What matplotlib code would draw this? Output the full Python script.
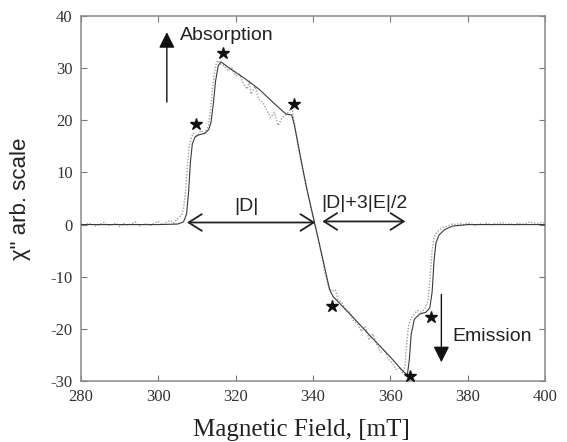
import matplotlib
matplotlib.use("Agg")
import matplotlib.pyplot as plt
import numpy as np

# Simulated (solid) spectrum
field_sim = [280, 300, 305, 306.5, 307.3, 307.8, 308.3, 308.8, 309.5, 310.5, 312, 313, 313.6,
             314.2, 314.8, 315.5, 316.2, 318, 322, 326, 330, 333, 334.5, 335.2, 336, 337,
             338.5, 340.5, 342.5, 344.3, 345.2, 346.5, 350, 355, 360, 363.5, 364.4, 364.9,
             365.4, 366.2, 367.5, 369.2, 370.2, 370.8, 371.3, 371.8, 372.6, 374, 376, 380, 400]
chi_sim = [0, 0, 0.1, 0.5, 2, 6, 12, 15.5, 16.8, 17.2, 17.5, 18.2, 19.5,
           23, 27.5, 30.5, 31.2, 30.2, 28.2, 26, 23.2, 21.2, 21, 19, 16, 12,
           6.5, 0, -6.5, -12.5, -13.8, -14.8, -17.5, -21.5, -25.4, -28.3, -28.8, -26,
           -21, -18.2, -17.2, -16.8, -16, -13, -7, -3.5, -2, -1, -0.3, 0, 0]

# Experimental (dotted) spectrum
field_exp = list(range(280, 306)) + [
    306, 306.5, 307, 307.5, 308, 308.5, 309, 310, 311, 312, 313, 313.5, 314, 314.5, 315,
    315.5, 316, 317, 318, 319, 320, 321, 322, 323, 323.5, 324, 325, 326, 327, 328, 329,
    330, 331, 332, 333, 334, 334.6, 335.3, 336, 337, 338, 339, 340, 341, 342, 343, 344,
    345, 345.8, 346.5, 347.5, 348.5, 349.5, 350.5, 351.5, 352.5, 353.5, 354.5, 355.5,
    356.5, 357.5, 358.5, 359.5, 360.5, 361.5, 362.5, 363.2, 363.8, 364.2, 364.7, 365.3,
    366, 367, 368, 369, 369.8, 370.3, 370.8, 371.3, 372, 373, 374, 375, 376] + list(range(377, 401))
chi_exp = [0.2, -0.1, 0.3, 0, -0.3, 0.1, 0.4, -0.2, 0, 0.3, -0.4, 0.2, -0.1, 0.1, 0.5, -0.3,
           0, 0.2, -0.2, 0.3, 0.6, -0.1, 0.4, 0.8, 0.3, 1.2] + [
    1.8, 3, 6, 11, 15, 16.5, 17.5, 17, 18, 17.5, 19, 22, 26, 29, 31,
    31.5, 30.8, 30.5, 29.5, 30, 28.5, 28.8, 27, 26, 27.5, 25, 26.5, 24, 23.5, 22, 20.5,
    21.5, 19, 20.5, 21, 22, 22.3, 19, 15.5, 12, 8, 5, 1.5, -1.5, -5, -9, -12,
    -12.8, -12.5, -14.5, -15, -16.5, -16.8, -18.5, -19, -20.5, -19.5, -22, -21,
    -23, -24.5, -24, -25.8, -26.5, -27.8, -27.5, -28.5, -27, -23, -19.5, -18,
    -17.2, -16.5, -16.8, -16, -14.5, -10, -5, -2.5, -1.5, -0.8, -0.5, -0.2, 0.1] + [
    0, 0.2, -0.1, 0.3, 0.1, -0.2, 0.2, 0, 0.3, -0.1, 0.2, 0.1, 0.4, 0, 0.2, -0.1,
    0.3, 0.1, 0.2, 0.5, 0.3, 0.2, 0.4, 0.3]

# Marked transitions (stars)
star_field = [309.7, 316.6, 335.0, 344.8, 365.2, 370.6]
star_chi = [19.3, 32.9, 23.1, -15.7, -29.0, -17.8]

x_ticks = [280, 300, 320, 340, 360, 380, 400]
y_ticks = [-30, -20, -10, 0, 10, 20, 30, 40]

W, H = 567, 442
fig = plt.figure(figsize=(W / 100, H / 100), dpi=100)
ax = fig.add_axes([81 / W, 1 - 381 / H, (545 - 81) / W, (381 - 16) / H])

ax.plot(field_exp, chi_exp, color='#a0a0a0', lw=1.0, ls=(0, (1, 1.2)), zorder=2)
ax.plot(field_sim, chi_sim, color='#3a3a3a', lw=0.8, zorder=3)
ax.plot(star_field, star_chi, ls='none', marker='*', color='#111111', ms=9, zorder=4)

ax.set_xlim(280, 400)
ax.set_ylim(-30, 40)
ax.set_xticks(x_ticks)
ax.set_yticks(y_ticks)
ax.set_xticklabels([str(t) for t in x_ticks])
ax.set_yticklabels([str(t) for t in y_ticks])
for lab in ax.get_xticklabels() + ax.get_yticklabels():
    lab.set_fontfamily('Liberation Serif')
    lab.set_fontsize(12)
    lab.set_color('#333333')
ax.tick_params(direction='in', length=4, width=0.8, color='#777777',
               top=True, right=True, pad=6)
for s in ax.spines.values():
    s.set_color('#8a8a8a')
    s.set_linewidth(1.1)

sans = 'Liberation Sans'
head = '-|>,head_length=0.6,head_width=0.3'
# Absorption arrow
ax.annotate('', xy=(302.2, 36.9), xytext=(302.2, 23.5),
            arrowprops=dict(arrowstyle=head, mutation_scale=16, color='#111111',
                            lw=1.0, shrinkA=0, shrinkB=0))
ax.text(305.5, 36.3, 'Absorption', family=sans, fontsize=14, ha='left', va='center', color='#222222')
# Emission arrow
ax.annotate('', xy=(373.2, -26.4), xytext=(373.2, -13.4),
            arrowprops=dict(arrowstyle=head, mutation_scale=16, color='#111111',
                            lw=1.0, shrinkA=0, shrinkB=0))
ax.text(376, -21.4, 'Emission', family=sans, fontsize=14, ha='left', va='center', color='#222222')

# |D| double arrow
ax.annotate('', xy=(307.4, 0.4), xytext=(340.6, 0.4),
            arrowprops=dict(arrowstyle='<->,head_length=0.95,head_width=0.6',
                            mutation_scale=10, color='#222222', lw=1.3, shrinkA=0, shrinkB=0))
ax.text(322.8, 3.4, '|D|', family=sans, fontsize=14, ha='center', va='center', color='#222222')
# |D|+3|E|/2 double arrow
ax.annotate('', xy=(342.4, 0.6), xytext=(363.9, 0.6),
            arrowprops=dict(arrowstyle='<->,head_length=0.95,head_width=0.6',
                            mutation_scale=10, color='#222222', lw=1.3, shrinkA=0, shrinkB=0))
ax.text(353.2, 4.0, '|D|+3|E|/2', family=sans, fontsize=14, ha='center', va='center', color='#222222')

fig.text(21 / W, 1 - 199 / H, 'χ" arb. scale', family=sans, fontsize=16,
         rotation=90, ha='center', va='center', color='#222222')
fig.text(301 / W, 1 - 430 / H, 'Magnetic Field, [mT]', family='Liberation Serif',
         fontsize=18, ha='center', va='center', color='#222222')

fig.savefig('out.png', dpi=100)
